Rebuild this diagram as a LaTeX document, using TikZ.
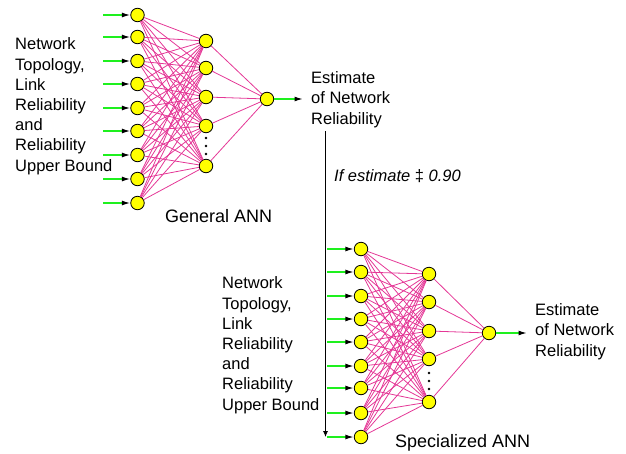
\documentclass[tikz,border=0pt]{standalone}
\usepackage{fontspec}
\setmainfont{Liberation Sans}
\usetikzlibrary{arrows.meta}
\definecolor{annpink}{RGB}{228,55,150}
\definecolor{anngreen}{RGB}{30,240,30}
\definecolor{annyellow}{RGB}{255,255,0}
\tikzset{
  x=1pt, y=-1pt,
  neuron/.style={circle, draw=black, line width=0.8pt, fill=annyellow, minimum size=13.5pt, inner sep=0pt},
  wire/.style={draw=annpink, line width=0.8pt},
  feed/.style={draw=anngreen, line width=1.4pt, -{Latex[length=8.5pt,width=5pt,color=black]}},
  lbl/.style={font=\fontsize{16.5}{20.2}\selectfont, align=left, inner sep=0pt, anchor=base west},
  ttl/.style={font=\fontsize{18}{20}\selectfont, inner sep=0pt, anchor=base west},
  dotmark/.style={circle, fill=black, minimum size=2.6pt, inner sep=0pt},
}
\begin{document}
\begin{tikzpicture}
\useasboundingbox (0,0) rectangle (626,453);
% ---------- General ANN ----------
\foreach \y [count=\i] in {15,37,61,84,108,131,155,179,203} {
  \node[neuron] (g-i\i) at (137.5,\y) {};
  \coordinate (g-a\i) at (103,\y);
  \draw[feed] (g-a\i) -- (g-i\i.west);
}
\foreach \y [count=\j] in {41,68,97,126,166} {
  \node[neuron] (g-h\j) at (206,\y) {};
}
\node[neuron] (g-o) at (267,99) {};
\foreach \i in {1,...,9} \foreach \j in {1,...,5} \draw[wire] (g-i\i) -- (g-h\j);
\foreach \j in {1,...,5} \draw[wire] (g-h\j) -- (g-o);
\node[dotmark] (g-d1) at (206,138) {};
\node[dotmark] (g-d2) at (206,146) {};
\node[dotmark] (g-d3) at (206,154) {};
\coordinate (g-out) at (303,99);
\draw[feed] (g-o) -- (g-out);
\node[lbl] (g-in) at (15,171) {Network\\Topology,\\Link\\Reliability\\and\\Reliability\\Upper Bound};
\node[lbl] (g-est) at (311,124) {Estimate\\of Network\\Reliability};
\node[ttl] (g-title) at (165,222) {General ANN};
% ---------- condition ----------
\coordinate (c-top) at (325.5,131);
\coordinate (c-bot) at (325.5,437);
\draw[line width=0.8pt, -{Latex[length=6pt,width=5pt]}] (c-top) -- (c-bot);
\node[lbl, font=\fontsize{16.5}{20.2}\selectfont\itshape] (cond) at (334,181) {If estimate {\upshape ‡} 0.90};
% ---------- Specialized ANN ----------
\foreach \y [count=\i] in {249,272,296,319,342,366,388,413,437} {
  \node[neuron] (s-i\i) at (361,\y) {};
  \coordinate (s-a\i) at (327,\y);
  \draw[feed] (s-a\i) -- (s-i\i.west);
}
\foreach \y [count=\j] in {274,302,331,359,402} {
  \node[neuron] (s-h\j) at (429,\y) {};
}
\node[neuron] (s-o) at (489,333) {};
\foreach \i in {1,...,9} \foreach \j in {1,...,5} \draw[wire] (s-i\i) -- (s-h\j);
\foreach \j in {1,...,5} \draw[wire] (s-h\j) -- (s-o);
\node[dotmark] (s-d1) at (429,373) {};
\node[dotmark] (s-d2) at (429,381) {};
\node[dotmark] (s-d3) at (429,389) {};
\coordinate (s-out) at (527,333);
\draw[feed] (s-o) -- (s-out);
\node[lbl] (s-in) at (222,410) {Network\\Topology,\\Link\\Reliability\\and\\Reliability\\Upper Bound};
\node[lbl] (s-est) at (535,356) {Estimate\\of Network\\Reliability};
\node[ttl] (s-title) at (395,447) {Specialized ANN};
\end{tikzpicture}
\end{document}
